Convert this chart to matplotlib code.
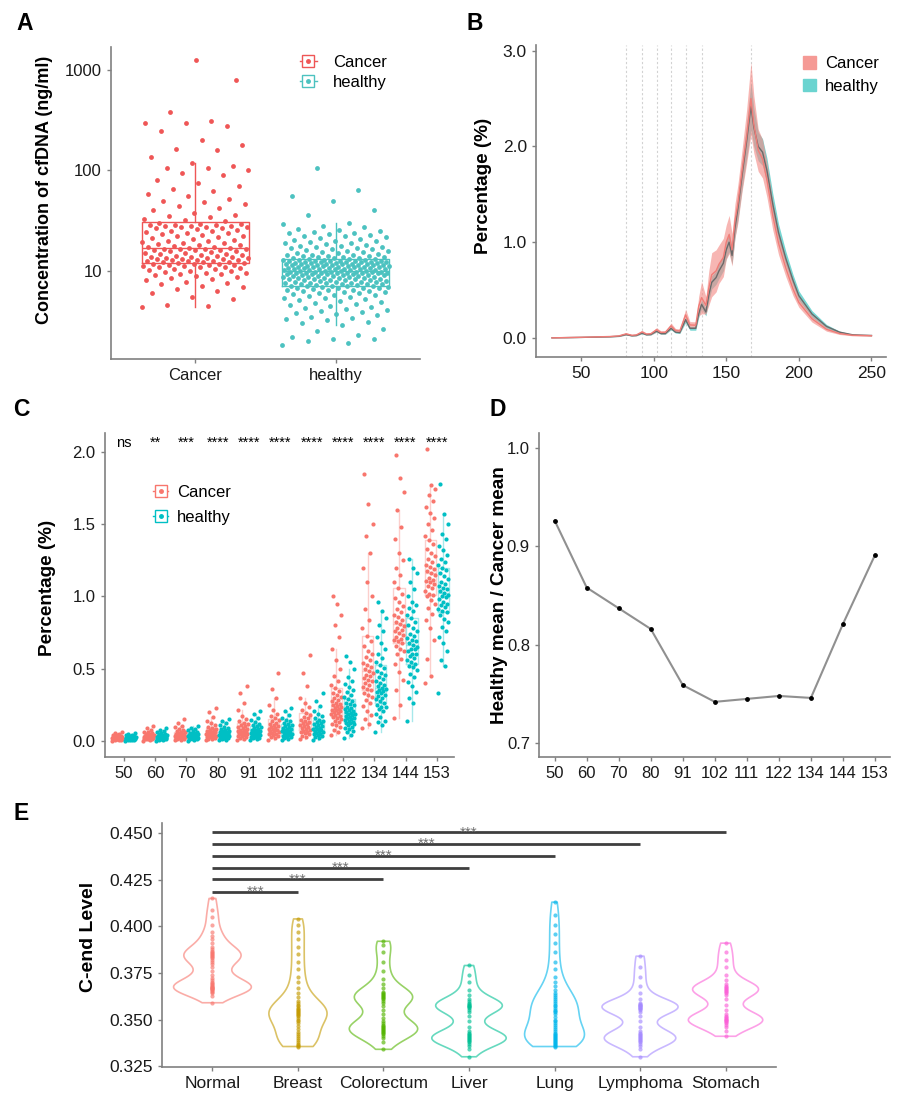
import numpy as np
import matplotlib
matplotlib.use("Agg")
import matplotlib.pyplot as plt
from matplotlib import cbook
from matplotlib.lines import Line2D
from matplotlib.patches import Patch
from matplotlib.ticker import NullLocator, FormatStrFormatter
from matplotlib.colors import to_rgba

plt.rcParams['font.family'] = ['Liberation Sans', 'DejaVu Sans']

# ---- A: cfDNA concentration (ng/ml) ----
conc_cancer = [4.4, 4.5, 4.6, 5.2, 5.5, 6.0, 6.3, 6.6, 6.9, 7.1, 7.3, 7.5, 7.8, 8.0, 8.2, 8.4, 8.6, 8.8,
               9.0, 9.2, 9.3, 9.5, 9.6, 9.8, 9.9, 10.0, 10.2, 10.3, 10.5, 10.6, 10.8, 10.9, 11.0, 11.1,
               11.2, 11.3, 11.4, 11.5, 11.6, 11.7, 11.8, 11.9, 12.0, 12.1, 12.2, 12.3, 12.4, 12.5, 12.6,
               12.7, 12.8, 12.9, 13.0, 13.1, 13.2, 13.3, 13.4, 13.5, 13.6, 13.7, 13.8, 13.9, 14.0, 14.2,
               14.4, 14.6, 14.8, 15.0, 15.2, 15.4, 15.6, 15.8, 16.0, 16.1, 16.2, 16.3, 16.4, 16.5, 16.6,
               16.7, 16.9, 17.1, 17.3, 17.6, 17.9, 18.2, 18.5, 18.8, 19.1, 19.4, 19.7, 20.0, 20.4, 20.8,
               21.2, 21.6, 22.0, 22.4, 22.8, 23.2, 23.6, 24.0, 24.4, 24.8, 25.2, 25.6, 26.0, 26.4, 26.7,
               27.0, 27.3, 27.6, 27.9, 28.0, 28.2, 28.4, 28.6, 28.8, 29.0, 29.2, 30, 31, 32, 33, 34, 35,
               36, 38, 40, 42, 44, 46, 48, 50, 52, 55, 58, 62, 66, 70, 75, 80, 90, 95, 100, 105, 105, 110,
               120, 135, 160, 165, 180, 200, 250, 280, 300, 300, 310, 380, 800, 1250]
conc_healthy = [1.8, 1.9, 2.0, 2.1, 2.1, 2.2, 2.3, 2.5, 2.6, 2.9, 3.0, 3.1, 3.2, 3.3, 3.4, 3.5, 3.6, 3.7,
                3.8, 3.9, 4.0, 4.1, 4.2, 4.3, 4.4, 4.5, 4.6, 4.7, 4.8, 4.9, 5.0, 5.1, 5.2, 5.3, 5.4, 5.5,
                5.6, 5.7, 5.8, 5.9, 6.0, 6.0, 6.1, 6.2, 6.3, 6.3, 6.4, 6.5, 6.5, 6.6, 6.7, 6.7, 6.8, 6.8,
                6.9, 6.9, 7.0, 7.0, 7.0, 7.1, 7.1, 7.2, 7.2, 7.3, 7.3, 7.4, 7.4, 7.5, 7.5, 7.6, 7.6, 7.7,
                7.7, 7.8, 7.8, 7.9, 7.9, 8.0, 8.0, 8.1, 8.1, 8.2, 8.2, 8.3, 8.3, 8.4, 8.4, 8.5, 8.5, 8.6,
                8.6, 8.7, 8.7, 8.8, 8.8, 8.9, 8.9, 9.0, 9.0, 9.1, 9.1, 9.2, 9.2, 9.3, 9.3, 9.4, 9.4, 9.5,
                9.5, 9.5, 9.6, 9.6, 9.6, 9.7, 9.7, 9.7, 9.8, 9.8, 9.8, 9.9, 9.9, 10.0, 10.0, 10.1, 10.1,
                10.2, 10.2, 10.3, 10.3, 10.4, 10.4, 10.5, 10.5, 10.6, 10.6, 10.7, 10.7, 10.8, 10.8, 10.9,
                10.9, 11.0, 11.0, 11.1, 11.1, 11.2, 11.2, 11.3, 11.3, 11.4, 11.4, 11.5, 11.5, 11.6, 11.6,
                11.7, 11.7, 11.8, 11.8, 11.9, 11.9, 12.0, 12.0, 12.1, 12.1, 12.2, 12.2, 12.3, 12.3, 12.4,
                12.4, 12.5, 12.5, 12.6, 12.6, 12.7, 12.7, 12.8, 12.9, 13.0, 13.1, 13.2, 13.3, 13.4, 13.5,
                13.6, 13.7, 13.8, 13.9, 14.0, 14.1, 14.2, 14.3, 14.5, 14.7, 14.9, 15.1, 15.3, 15.5, 15.7,
                15.9, 16.1, 16.3, 16.5, 16.7, 16.9, 17.1, 17.3, 17.5, 17.8, 18.1, 18.4, 18.7, 19.0, 19.3,
                19.6, 20.0, 20.4, 20.8, 21.2, 21.6, 22.0, 22.4, 22.8, 23.2, 23.6, 24.0, 24.5, 25.0, 25.5,
                26.0, 27.0, 28.0, 29.0, 30.0, 36.0, 40.0, 50.0, 55.0, 64.0, 105.0]
groups_a = ['Cancer', 'healthy']

# ---- B: fragment length profile ----
frag_len = [30, 50, 70, 76, 81, 85, 88, 92, 95, 98, 102, 105, 108, 112, 115, 118, 122, 125, 129, 131,
            133, 136, 138, 140, 143, 145, 148, 150, 152, 154, 156, 158, 161, 164, 167, 169, 172, 175,
            178, 182, 186, 191, 196, 200, 209, 219, 228, 237, 250]
healthy_mean = [0.000, 0.005, 0.012, 0.017, 0.035, 0.022, 0.025, 0.050, 0.033, 0.035, 0.070, 0.045,
                0.045, 0.100, 0.060, 0.055, 0.190, 0.100, 0.100, 0.250, 0.350, 0.270, 0.450, 0.580,
                0.630, 0.700, 0.780, 0.920, 1.000, 0.860, 1.150, 1.350, 1.710, 2.050, 2.420, 2.200,
                2.000, 1.940, 1.750, 1.400, 1.100, 0.830, 0.600, 0.440, 0.250, 0.120, 0.060, 0.032, 0.025]
healthy_sd = [0.000, 0.002, 0.003, 0.004, 0.006, 0.004, 0.005, 0.008, 0.006, 0.006, 0.010, 0.008,
              0.008, 0.015, 0.010, 0.010, 0.030, 0.020, 0.020, 0.040, 0.050, 0.040, 0.060, 0.070,
              0.070, 0.080, 0.080, 0.090, 0.100, 0.090, 0.100, 0.120, 0.140, 0.180, 0.250, 0.200,
              0.150, 0.140, 0.130, 0.110, 0.090, 0.075, 0.060, 0.050, 0.035, 0.020, 0.010, 0.006, 0.004]
cancer_mean = [0.000, 0.006, 0.014, 0.020, 0.042, 0.027, 0.030, 0.062, 0.040, 0.043, 0.085, 0.057,
               0.058, 0.125, 0.078, 0.072, 0.240, 0.135, 0.132, 0.330, 0.420, 0.340, 0.520, 0.660,
               0.700, 0.770, 0.840, 1.000, 1.080, 0.920, 1.220, 1.400, 1.760, 2.100, 2.500, 2.230,
               1.960, 1.870, 1.650, 1.280, 0.990, 0.730, 0.510, 0.370, 0.200, 0.090, 0.045, 0.027, 0.022]
cancer_sd = [0.000, 0.003, 0.005, 0.006, 0.012, 0.008, 0.009, 0.016, 0.011, 0.012, 0.022, 0.016,
             0.017, 0.030, 0.020, 0.020, 0.060, 0.035, 0.035, 0.100, 0.170, 0.090, 0.180, 0.230,
             0.220, 0.200, 0.200, 0.180, 0.200, 0.170, 0.180, 0.200, 0.220, 0.280, 0.380, 0.300,
             0.220, 0.200, 0.180, 0.150, 0.120, 0.090, 0.070, 0.050, 0.035, 0.020, 0.010, 0.006, 0.005]
peak_marks = [81, 92, 102, 112, 122, 133, 167]

# ---- C: percentage per fragment size ----
sizes = ['50', '60', '70', '80', '91', '102', '111', '122', '134', '144', '153']
signif = ['ns', '**', '***', '****', '****', '****', '****', '****', '****', '****', '****']
pct_cancer = [
    [0.003, 0.006, 0.008, 0.010, 0.011, 0.012, 0.013, 0.014, 0.015, 0.016, 0.017, 0.018, 0.019, 0.020, 0.021,
     0.022, 0.023, 0.024, 0.025, 0.026, 0.028, 0.030, 0.032, 0.034, 0.036, 0.039, 0.043, 0.048, 0.055, 0.065],
    [0.004, 0.008, 0.011, 0.013, 0.015, 0.017, 0.018, 0.020, 0.021, 0.022, 0.024, 0.025, 0.026, 0.028, 0.029,
     0.030, 0.032, 0.034, 0.036, 0.038, 0.040, 0.043, 0.046, 0.050, 0.055, 0.060, 0.066, 0.075, 0.088, 0.102],
    [0.005, 0.010, 0.013, 0.016, 0.018, 0.020, 0.022, 0.024, 0.026, 0.028, 0.030, 0.032, 0.034, 0.036, 0.038,
     0.040, 0.043, 0.046, 0.049, 0.052, 0.056, 0.060, 0.065, 0.070, 0.076, 0.084, 0.094, 0.105, 0.125, 0.150],
    [0.006, 0.012, 0.017, 0.021, 0.025, 0.028, 0.031, 0.034, 0.037, 0.040, 0.043, 0.046, 0.049, 0.052, 0.055,
     0.058, 0.062, 0.066, 0.070, 0.074, 0.079, 0.085, 0.092, 0.100, 0.110, 0.122, 0.140, 0.165, 0.200, 0.232],
    [0.008, 0.016, 0.022, 0.028, 0.033, 0.038, 0.042, 0.046, 0.050, 0.054, 0.058, 0.062, 0.066, 0.070, 0.075,
     0.080, 0.085, 0.090, 0.096, 0.103, 0.110, 0.118, 0.128, 0.140, 0.155, 0.175, 0.215, 0.260, 0.330, 0.378],
    [0.010, 0.020, 0.028, 0.035, 0.041, 0.047, 0.052, 0.057, 0.062, 0.067, 0.072, 0.077, 0.082, 0.087, 0.093,
     0.099, 0.105, 0.112, 0.119, 0.127, 0.136, 0.146, 0.158, 0.172, 0.190, 0.215, 0.250, 0.300, 0.360, 0.470],
    [0.015, 0.028, 0.038, 0.046, 0.053, 0.060, 0.066, 0.072, 0.078, 0.084, 0.090, 0.096, 0.102, 0.108, 0.115,
     0.122, 0.130, 0.138, 0.147, 0.157, 0.168, 0.180, 0.195, 0.212, 0.235, 0.265, 0.300, 0.380, 0.470, 0.595],
    [0.045, 0.065, 0.080, 0.095, 0.108, 0.120, 0.130, 0.140, 0.150, 0.158, 0.165, 0.172, 0.180, 0.187, 0.194,
     0.200, 0.206, 0.212, 0.218, 0.224, 0.230, 0.236, 0.243, 0.250, 0.258, 0.266, 0.275, 0.285, 0.295, 0.305,
     0.318, 0.332, 0.348, 0.366, 0.388, 0.415, 0.450, 0.500, 0.560, 0.640, 0.720, 0.800, 0.870, 0.950, 1.000],
    [0.090, 0.120, 0.150, 0.180, 0.210, 0.240, 0.265, 0.285, 0.305, 0.320, 0.335, 0.350, 0.362, 0.375, 0.388,
     0.400, 0.412, 0.424, 0.436, 0.448, 0.460, 0.472, 0.485, 0.498, 0.512, 0.527, 0.543, 0.560, 0.580, 0.600,
     0.625, 0.655, 0.690, 0.730, 0.780, 0.840, 0.910, 1.000, 1.100, 1.200, 1.300, 1.420, 1.500, 1.640, 1.850],
    [0.160, 0.250, 0.350, 0.420, 0.480, 0.530, 0.570, 0.600, 0.620, 0.640, 0.660, 0.675, 0.690, 0.700, 0.705,
     0.720, 0.735, 0.750, 0.760, 0.765, 0.780, 0.795, 0.810, 0.825, 0.840, 0.855, 0.870, 0.890, 0.910, 0.935,
     0.960, 0.990, 1.020, 1.060, 1.100, 1.150, 1.200, 1.250, 1.300, 1.400, 1.480, 1.600, 1.720, 1.820, 1.980],
    [0.400, 0.450, 0.570, 0.700, 0.780, 0.840, 0.880, 0.920, 0.950, 0.975, 1.000, 1.010, 1.020, 1.040, 1.055,
     1.070, 1.085, 1.100, 1.110, 1.115, 1.130, 1.145, 1.160, 1.175, 1.190, 1.205, 1.220, 1.240, 1.260, 1.280,
     1.300, 1.330, 1.360, 1.390, 1.420, 1.460, 1.500, 1.540, 1.580, 1.620, 1.660, 1.700, 1.740, 1.770, 2.020],
]
pct_healthy = [
    [0.003, 0.005, 0.007, 0.009, 0.010, 0.011, 0.012, 0.013, 0.014, 0.015, 0.016, 0.017, 0.018, 0.019, 0.020,
     0.021, 0.022, 0.023, 0.024, 0.025, 0.027, 0.029, 0.031, 0.033, 0.035, 0.038, 0.041, 0.045, 0.050, 0.058],
    [0.003, 0.007, 0.010, 0.012, 0.014, 0.015, 0.017, 0.018, 0.019, 0.021, 0.022, 0.023, 0.025, 0.026, 0.027,
     0.029, 0.030, 0.032, 0.034, 0.036, 0.038, 0.041, 0.044, 0.047, 0.051, 0.056, 0.062, 0.070, 0.080, 0.090],
    [0.004, 0.008, 0.011, 0.013, 0.015, 0.017, 0.019, 0.021, 0.023, 0.025, 0.026, 0.028, 0.030, 0.032, 0.034,
     0.036, 0.038, 0.040, 0.042, 0.045, 0.048, 0.051, 0.055, 0.059, 0.064, 0.070, 0.077, 0.085, 0.093, 0.102],
    [0.005, 0.010, 0.014, 0.018, 0.021, 0.024, 0.027, 0.030, 0.033, 0.035, 0.038, 0.040, 0.043, 0.045, 0.048,
     0.051, 0.054, 0.057, 0.060, 0.064, 0.068, 0.073, 0.078, 0.084, 0.091, 0.100, 0.110, 0.122, 0.138, 0.150],
    [0.006, 0.013, 0.018, 0.023, 0.027, 0.031, 0.035, 0.039, 0.042, 0.046, 0.049, 0.052, 0.056, 0.059, 0.063,
     0.067, 0.071, 0.075, 0.080, 0.085, 0.090, 0.096, 0.103, 0.111, 0.120, 0.131, 0.145, 0.160, 0.185, 0.210],
    [0.007, 0.015, 0.021, 0.026, 0.031, 0.036, 0.040, 0.044, 0.048, 0.052, 0.056, 0.060, 0.064, 0.068, 0.072,
     0.076, 0.081, 0.086, 0.091, 0.097, 0.103, 0.110, 0.118, 0.127, 0.137, 0.148, 0.160, 0.180, 0.205, 0.230],
    [0.010, 0.020, 0.028, 0.035, 0.041, 0.047, 0.052, 0.057, 0.062, 0.067, 0.072, 0.077, 0.082, 0.087, 0.092,
     0.097, 0.103, 0.109, 0.115, 0.122, 0.130, 0.139, 0.149, 0.160, 0.173, 0.190, 0.210, 0.240, 0.280, 0.330],
    [0.020, 0.045, 0.060, 0.072, 0.082, 0.092, 0.100, 0.108, 0.115, 0.122, 0.128, 0.134, 0.140, 0.146, 0.152,
     0.158, 0.163, 0.168, 0.173, 0.178, 0.184, 0.190, 0.196, 0.202, 0.208, 0.215, 0.222, 0.230, 0.238, 0.247,
     0.256, 0.266, 0.277, 0.290, 0.305, 0.320, 0.338, 0.356, 0.375, 0.395, 0.415, 0.440, 0.500, 0.550, 0.590],
    [0.060, 0.110, 0.130, 0.140, 0.165, 0.185, 0.205, 0.222, 0.235, 0.238, 0.252, 0.265, 0.278, 0.290, 0.300,
     0.310, 0.320, 0.330, 0.340, 0.345, 0.350, 0.360, 0.370, 0.380, 0.391, 0.402, 0.414, 0.427, 0.440, 0.455,
     0.470, 0.487, 0.505, 0.525, 0.548, 0.575, 0.605, 0.640, 0.680, 0.720, 0.760, 0.800, 0.850, 0.900, 0.960],
    [0.140, 0.260, 0.300, 0.340, 0.380, 0.410, 0.440, 0.465, 0.490, 0.510, 0.520, 0.530, 0.545, 0.560, 0.575,
     0.590, 0.600, 0.605, 0.620, 0.635, 0.640, 0.650, 0.665, 0.680, 0.695, 0.700, 0.710, 0.725, 0.740, 0.760,
     0.780, 0.800, 0.825, 0.850, 0.875, 0.900, 0.920, 0.940, 0.960, 1.000, 1.050, 1.100, 1.160, 1.200, 1.260],
    [0.330, 0.520, 0.560, 0.620, 0.680, 0.720, 0.760, 0.790, 0.820, 0.845, 0.870, 0.890, 0.900, 0.910, 0.930,
     0.940, 0.950, 0.965, 0.980, 0.995, 1.000, 1.010, 1.025, 1.040, 1.050, 1.055, 1.070, 1.085, 1.100, 1.120,
     1.140, 1.160, 1.180, 1.200, 1.220, 1.240, 1.260, 1.290, 1.320, 1.350, 1.400, 1.430, 1.500, 1.570, 1.780],
]

# ---- D: healthy mean / cancer mean ----
ratio = [0.926, 0.858, 0.837, 0.816, 0.759, 0.742, 0.745, 0.748, 0.746, 0.821, 0.891]

# ---- E: C-end level per tissue ----
tissues = ['Normal', 'Breast', 'Colorectum', 'Liver', 'Lung', 'Lymphoma', 'Stomach']
cend = [
    [0.359, 0.3625, 0.364, 0.3648, 0.3655, 0.366, 0.3662, 0.3665, 0.3668, 0.367, 0.3672, 0.3675, 0.368,
     0.3683, 0.3688, 0.3695, 0.370, 0.371, 0.3725, 0.374, 0.376, 0.378, 0.380, 0.381, 0.382, 0.383, 0.3835,
     0.384, 0.3845, 0.385, 0.3855, 0.386, 0.387, 0.388, 0.389, 0.391, 0.393, 0.395, 0.397, 0.401, 0.405,
     0.409, 0.415],
    [0.3355, 0.336, 0.3365, 0.337, 0.338, 0.339, 0.340, 0.341, 0.342, 0.3435, 0.345, 0.3465, 0.348, 0.349,
     0.350, 0.351, 0.352, 0.3525, 0.353, 0.3535, 0.354, 0.3545, 0.355, 0.3555, 0.356, 0.357, 0.358, 0.359,
     0.360, 0.362, 0.364, 0.367, 0.370, 0.373, 0.377, 0.381, 0.385, 0.389, 0.393, 0.397, 0.401, 0.404],
    [0.334, 0.338, 0.340, 0.341, 0.342, 0.343, 0.3435, 0.344, 0.3445, 0.345, 0.3455, 0.346, 0.3465, 0.347,
     0.348, 0.349, 0.351, 0.353, 0.355, 0.357, 0.359, 0.360, 0.361, 0.3615, 0.362, 0.3625, 0.363, 0.3635,
     0.364, 0.365, 0.367, 0.369, 0.372, 0.376, 0.381, 0.386, 0.390, 0.392],
    [0.330, 0.334, 0.336, 0.337, 0.338, 0.3385, 0.339, 0.3395, 0.340, 0.3405, 0.341, 0.3415, 0.342, 0.343,
     0.344, 0.346, 0.349, 0.352, 0.354, 0.355, 0.356, 0.3565, 0.357, 0.3575, 0.358, 0.3585, 0.359, 0.360,
     0.361, 0.363, 0.366, 0.370, 0.374, 0.379],
    [0.3355, 0.336, 0.3365, 0.337, 0.3375, 0.338, 0.3385, 0.339, 0.3395, 0.340, 0.3405, 0.341, 0.3415,
     0.342, 0.343, 0.344, 0.345, 0.346, 0.347, 0.348, 0.349, 0.350, 0.3515, 0.353, 0.354, 0.3545, 0.355,
     0.356, 0.357, 0.358, 0.359, 0.360, 0.361, 0.362, 0.363, 0.364, 0.366, 0.368, 0.370, 0.373, 0.377,
     0.381, 0.386, 0.391, 0.396, 0.401, 0.406, 0.413],
    [0.330, 0.334, 0.336, 0.337, 0.338, 0.3385, 0.339, 0.3395, 0.340, 0.3405, 0.341, 0.3415, 0.342, 0.343,
     0.344, 0.346, 0.349, 0.352, 0.354, 0.355, 0.3555, 0.356, 0.3563, 0.3567, 0.357, 0.3573, 0.3577, 0.358,
     0.3585, 0.359, 0.361, 0.364, 0.368, 0.373, 0.378, 0.384],
    [0.341, 0.344, 0.346, 0.347, 0.348, 0.3485, 0.349, 0.3495, 0.350, 0.3505, 0.351, 0.3515, 0.352, 0.353,
     0.355, 0.358, 0.361, 0.363, 0.364, 0.365, 0.3655, 0.366, 0.3665, 0.367, 0.3675, 0.368, 0.369, 0.371,
     0.374, 0.378, 0.382, 0.386, 0.391],
]
comparisons = [(0, 1), (0, 2), (0, 3), (0, 4), (0, 5), (0, 6)]
comp_labels = ['***'] * 6

RED = '#EF5656'
TEAL = '#4CC2C0'
C_RED = '#F8766D'
C_TEAL = '#00BFC4'
E_COLORS = ['#F8766D', '#C49A00', '#53B400', '#00C094', '#00B6EB', '#A58AFF', '#FB61D7']
SPINE = '#808080'


def spread(n, half):
    # deterministic horizontal jitter
    return half * (2 * ((np.arange(n) * 0.6180339887) % 1.0) - 1)


def style(ax, size=12):
    for s in ['top', 'right']:
        ax.spines[s].set_visible(False)
    for s in ['left', 'bottom']:
        ax.spines[s].set_color(SPINE)
        ax.spines[s].set_linewidth(1.2)
    ax.tick_params(colors=SPINE, labelcolor='#1a1a1a', length=3, width=1, labelsize=size)


def box_key(c):
    return (Line2D([], [], color=c, lw=1),
            Line2D([], [], marker='s', ms=9, mfc='white', mec=c, mew=1, ls=''),
            Line2D([], [], marker='o', ms=2.5, color=c, ls=''))


W, H = 906, 1101
fig = plt.figure(figsize=(W / 100, H / 100), dpi=100)


def axes_px(l, r, t, b):
    return fig.add_axes([l / W, 1 - b / H, (r - l) / W, (b - t) / H])


for lab, x, y in [('A', 25, 24), ('B', 475, 24), ('C', 21, 409), ('D', 498, 409), ('E', 21, 814)]:
    fig.text(x / W, 1 - y / H, lab, fontsize=16.5, fontweight='bold', ha='center', va='center')

# ---------------- A ----------------
axA = axes_px(111, 420, 47, 359)
style(axA)
for i, (vals, c) in enumerate([(conc_cancer, RED), (conc_healthy, TEAL)]):
    vals = np.array(vals)
    st = cbook.boxplot_stats(np.log10(vals))[0]
    for k in ['med', 'q1', 'q3', 'whislo', 'whishi']:
        st[k] = 10 ** st[k]
    axA.bxp([st], positions=[i + 1], widths=0.76, showfliers=False, showcaps=False,
            boxprops=dict(color=c, lw=1), whiskerprops=dict(color=c, lw=1),
            medianprops=dict(color=c, lw=1), zorder=2)
    axA.scatter(i + 1 + spread(len(vals), 0.38), vals, s=12, color=c, lw=0, zorder=3)
axA.set_yscale('log')
axA.set_ylim(1.32, 1700)
axA.set_xlim(0.4, 2.6)
axA.set_yticks([10, 100, 1000])
axA.set_yticklabels(['10', '100', '1000'])
axA.yaxis.set_minor_locator(NullLocator())
axA.set_xticks([1, 2])
axA.set_xticklabels(groups_a)
axA.set_ylabel('Concentration of cfDNA (ng/ml)', fontsize=13, fontweight='bold', va='center')
axA.yaxis.set_label_coords(-0.215, 0.542)
axA.legend([box_key(RED), box_key(TEAL)], groups_a, loc='upper left', bbox_to_anchor=(0.59, 0.995),
           frameon=False, fontsize=12, handlelength=1.0, handletextpad=1.0, labelspacing=0.3,
           borderaxespad=0)

# ---------------- B ----------------
axB = axes_px(536, 886, 45, 357)
style(axB, 12.5)
fl = np.array(frag_len)
hm, hs = np.array(healthy_mean), np.array(healthy_sd)
cm, cs = np.array(cancer_mean), np.array(cancer_sd)
for p in peak_marks:
    axB.axvline(p, color='#d2d2d2', lw=0.8, ls=(0, (2, 2)), zorder=0)
axB.fill_between(fl, hm - hs, hm + hs, color='#5ECFCB', alpha=0.85, lw=0, zorder=1)
axB.fill_between(fl, cm - cs, cm + cs, color='#F48F8A', alpha=0.65, lw=0, zorder=2)
axB.plot(fl, hm, color='#6a6a6a', lw=1, zorder=3)
axB.plot(fl, cm, color='#F07C77', lw=1, zorder=3)
axB.set_xlim(19, 260)
axB.set_ylim(-0.2, 3.06)
axB.set_xticks([50, 100, 150, 200, 250])
axB.set_yticks([0, 1, 2, 3])
axB.yaxis.set_major_formatter(FormatStrFormatter('%.1f'))
axB.set_ylabel('Percentage (%)', fontsize=13.6, fontweight='bold', va='center')
axB.yaxis.set_label_coords(-0.151, 0.548)
axB.legend([Patch(color='#F59A95'), Patch(color='#6BD4D0')], groups_a, loc='upper left',
           bbox_to_anchor=(0.745, 0.985), frameon=False, fontsize=12, handlelength=0.75,
           handleheight=0.75, handletextpad=0.55, labelspacing=0.45, borderaxespad=0)

# ---------------- C ----------------
axC = axes_px(104.5, 454, 433, 757)
style(axC)
xc = np.arange(len(sizes))
for off, data, c in [(-0.21, pct_cancer, C_RED), (0.21, pct_healthy, C_TEAL)]:
    fc = to_rgba(c, 0.35)
    axC.boxplot(data, positions=xc + off, widths=0.36, showfliers=False, showcaps=False,
                boxprops=dict(color=fc, lw=1), whiskerprops=dict(color=fc, lw=1),
                medianprops=dict(color=fc, lw=1), manage_ticks=False)
    for i, vals in enumerate(data):
        axC.scatter(xc[i] + off + spread(len(vals), 0.17), vals, s=9, color=c, lw=0, zorder=3)
for i, s in enumerate(signif):
    axC.text(xc[i], 2.06, s, ha='center', va='center', fontsize=10.5)
axC.set_xlim(-0.62, 10.55)
axC.set_ylim(-0.11, 2.13)
axC.set_xticks(xc)
axC.set_xticklabels(sizes)
axC.set_yticks([0, 0.5, 1.0, 1.5, 2.0])
axC.yaxis.set_major_formatter(FormatStrFormatter('%.1f'))
axC.set_ylabel('Percentage (%)', fontsize=13.6, fontweight='bold', va='center')
axC.yaxis.set_label_coords(-0.162, 0.523)
axC.legend([box_key(C_RED), box_key(C_TEAL)], groups_a, loc='upper left', bbox_to_anchor=(0.12, 0.86),
           frameon=False, fontsize=12, handlelength=0.9, handletextpad=0.55, labelspacing=0.6,
           borderaxespad=0)

# ---------------- D ----------------
axD = axes_px(539, 890, 433, 757)
style(axD)
xd = np.arange(len(sizes))
axD.plot(xd, ratio, color='#909090', lw=1.5, zorder=2)
axD.scatter(xd, ratio, s=6, color='black', zorder=3)
axD.set_xlim(-0.49, 10.47)
axD.set_ylim(0.686, 1.015)
axD.set_xticks(xd)
axD.set_xticklabels(sizes)
axD.set_yticks([0.7, 0.8, 0.9, 1.0])
axD.yaxis.set_major_formatter(FormatStrFormatter('%.1f'))
axD.set_ylabel('Healthy mean / Cancer mean', fontsize=13.7, fontweight='bold', va='center')
axD.yaxis.set_label_coords(-0.112, 0.5)

# ---------------- E ----------------
axE = axes_px(162, 776, 823, 1067)
style(axE, 12.5)
xe = np.arange(len(tissues))
vwidths = [0.91, 0.68, 0.80, 0.87, 0.70, 0.89, 0.87]
parts = axE.violinplot(cend, positions=xe, widths=vwidths, showextrema=False, bw_method=0.3)
for body, c in zip(parts['bodies'], E_COLORS):
    body.set_alpha(None)
    body.set_facecolor('none')
    body.set_edgecolor(to_rgba(c, 0.6))
    body.set_linewidth(1.2)
for i, (vals, c) in enumerate(zip(cend, E_COLORS)):
    axE.scatter(np.full(len(vals), xe[i]), vals, s=9, color=c, alpha=0.65, lw=0, zorder=3)
bar_y = [0.4185, 0.4252, 0.4316, 0.4378, 0.4443, 0.4504]
for (a, b), yb, lab in zip(comparisons, bar_y, comp_labels):
    axE.plot([xe[a], xe[b]], [yb, yb], color='#3f3f3f', lw=2, solid_capstyle='butt')
    axE.text((xe[a] + xe[b]) / 2, yb - 0.0021, lab, ha='center', va='baseline', fontsize=11,
             color='#707070')
axE.set_xlim(-0.59, 6.59)
axE.set_ylim(0.3245, 0.4555)
axE.set_xticks(xe)
axE.set_xticklabels(tissues)
axE.set_yticks([0.325, 0.350, 0.375, 0.400, 0.425, 0.450])
axE.yaxis.set_major_formatter(FormatStrFormatter('%.3f'))
axE.set_ylabel('C-end Level', fontsize=14, fontweight='bold', va='center')
axE.yaxis.set_label_coords(-0.1205, 0.534)

fig.savefig('out.png', dpi=100)
